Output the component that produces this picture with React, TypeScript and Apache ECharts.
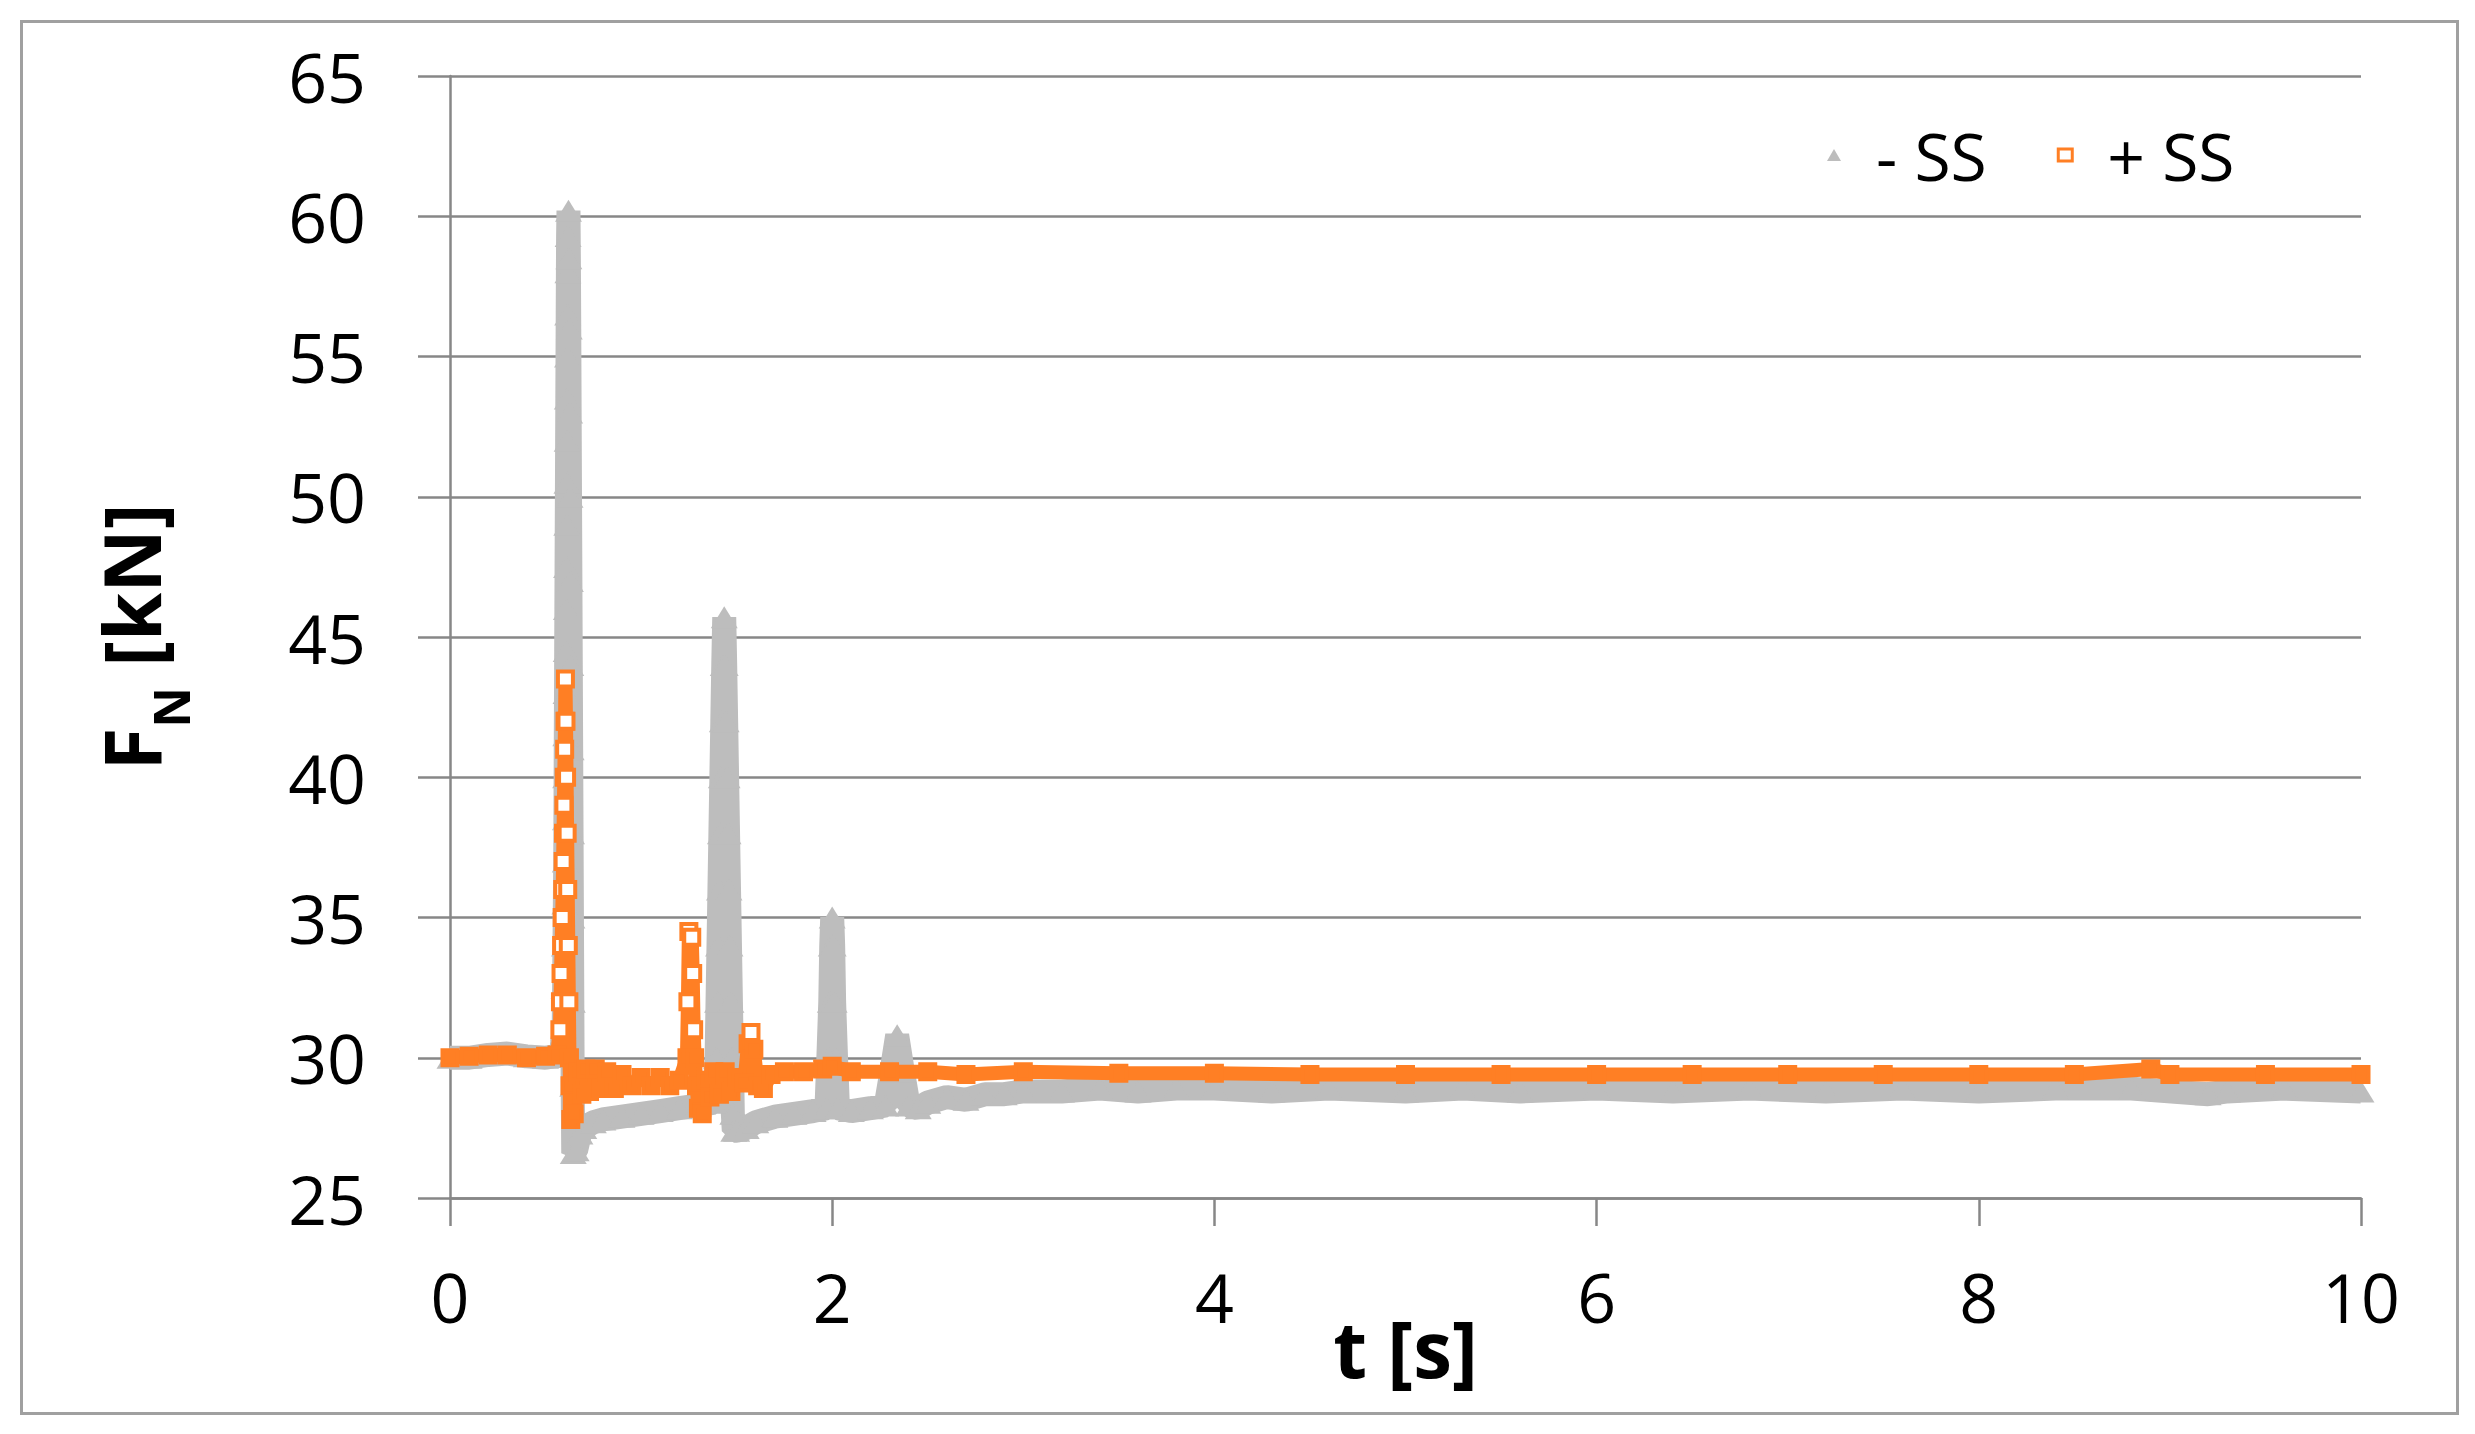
import React, { useRef, useEffect } from 'react';
import * as echarts from 'echarts';

// t [s], F_N [kN], without sliding support (- SS)
const minusSS: [number, number][] = [
  [0, 30.0], [0.1, 30.0], [0.2, 30.1], [0.3, 30.15], [0.4, 30.05], [0.5, 30.0], [0.58, 30.1],
  [0.595, 31], [0.597, 32.5], [0.599, 34], [0.601, 35.5], [0.603, 37], [0.604, 38.5], [0.605, 40],
  [0.606, 41.5], [0.607, 43], [0.608, 44.5], [0.609, 46], [0.61, 47.5], [0.611, 49], [0.612, 50.5],
  [0.613, 52], [0.614, 53.5], [0.615, 55], [0.616, 56.5], [0.617, 58], [0.618, 59.3], [0.62, 60.2],
  [0.622, 58.5], [0.624, 56], [0.626, 53], [0.628, 50], [0.63, 47], [0.632, 44], [0.634, 41],
  [0.636, 38], [0.638, 35], [0.64, 32], [0.642, 29], [0.645, 26.6],
  [0.66, 26.7], [0.68, 27.3], [0.7, 27.5], [0.75, 27.7], [0.8, 27.8], [0.9, 27.9], [1.0, 28.0],
  [1.1, 28.1], [1.2, 28.2], [1.3, 28.3], [1.38, 28.4],
  [1.395, 30], [1.4, 32], [1.405, 34], [1.41, 36], [1.415, 38], [1.42, 40], [1.425, 42], [1.43, 44],
  [1.435, 45.7], [1.44, 44], [1.445, 42], [1.45, 40], [1.455, 38], [1.46, 36], [1.465, 34],
  [1.47, 32], [1.475, 30], [1.48, 28], [1.485, 27.4],
  [1.5, 27.4], [1.55, 27.5], [1.6, 27.7], [1.7, 27.9], [1.8, 28.0], [1.9, 28.1], [1.97, 28.2],
  [1.98, 30], [1.99, 32], [1.995, 34], [2.0, 35], [2.005, 34], [2.01, 32], [2.02, 30], [2.03, 28.2],
  [2.1, 28.1], [2.2, 28.2], [2.28, 28.3],
  [2.31, 29.5], [2.34, 30.8], [2.37, 29.5], [2.4, 28.3],
  [2.45, 28.2], [2.5, 28.4], [2.6, 28.6], [2.7, 28.5], [2.8, 28.7], [2.9, 28.7], [3.0, 28.8],
  [3.2, 28.8], [3.4, 28.9], [3.6, 28.8], [3.8, 28.9], [4.0, 28.9], [4.3, 28.8], [4.6, 28.9],
  [5.0, 28.8], [5.3, 28.9], [5.6, 28.8], [6.0, 28.9], [6.4, 28.8], [6.8, 28.9], [7.2, 28.8],
  [7.6, 28.9], [8.0, 28.8], [8.4, 28.9], [8.8, 28.9], [9.2, 28.7], [9.3, 28.8], [9.6, 28.9], [10, 28.8],
];

// with sliding support (+ SS)
const plusSS: [number, number][] = [
  [0, 30.0], [0.1, 30.05], [0.2, 30.1], [0.3, 30.1], [0.4, 30.0], [0.5, 30.05], [0.56, 30.1],
  [0.575, 31], [0.578, 32], [0.581, 33], [0.584, 34], [0.587, 35], [0.59, 36], [0.592, 37],
  [0.594, 38], [0.596, 39], [0.598, 40], [0.6, 41], [0.602, 42], [0.604, 43.5],
  [0.607, 42], [0.61, 40], [0.613, 38], [0.616, 36], [0.619, 34], [0.622, 32], [0.625, 30],
  [0.628, 29], [0.632, 27.8], [0.64, 28.4], [0.65, 28.0],
  [0.67, 29.5], [0.69, 28.7], [0.71, 29.6], [0.73, 28.8], [0.76, 29.6], [0.79, 28.9], [0.82, 29.5],
  [0.86, 28.9], [0.9, 29.4], [0.95, 29.0], [1.0, 29.3], [1.05, 29.0], [1.1, 29.3], [1.15, 29.0],
  [1.2, 29.2],
  [1.24, 30], [1.245, 32], [1.25, 34.5], [1.265, 34.3], [1.27, 33], [1.275, 31], [1.28, 30],
  [1.29, 29], [1.3, 28.2], [1.32, 28.0], [1.34, 29.2], [1.36, 28.6],
  [1.38, 29.5], [1.41, 28.7], [1.44, 29.5], [1.47, 28.8], [1.5, 29.3], [1.54, 29.1],
  [1.56, 30.5], [1.575, 30.9], [1.59, 30.3], [1.61, 29.0], [1.64, 28.9], [1.68, 29.4],
  [1.75, 29.5], [1.85, 29.5], [1.95, 29.6], [2.0, 29.7], [2.1, 29.5], [2.3, 29.5], [2.5, 29.5],
  [2.7, 29.4], [3.0, 29.5], [3.5, 29.45], [4.0, 29.45], [4.5, 29.4], [5.0, 29.4], [5.5, 29.4],
  [6.0, 29.4], [6.5, 29.4], [7.0, 29.4], [7.5, 29.4], [8.0, 29.4], [8.5, 29.4], [8.9, 29.6],
  [9.0, 29.4], [9.5, 29.4], [10, 29.4],
];

const FONT = '"Open Sans", "DejaVu Sans", sans-serif';
const GRAY = '#bdbdbd';
const ORANGE = '#ff7f24';
const GRID = '#878787';

export default function App() {
  const chartRef = useRef<HTMLDivElement>(null);

  useEffect(() => {
    document.body.style.margin = '0';
    if (!chartRef.current) return;
    const chart = echarts.init(chartRef.current, undefined, { renderer: 'svg' });

    const option: echarts.EChartsOption = {
      animation: false,
      backgroundColor: '#fff',
      textStyle: { fontFamily: FONT },
      grid: { left: 450, top: 76, width: 1911, height: 1122 },
      legend: {
        left: 1827,
        top: 122,
        padding: 0,
        itemWidth: 14,
        itemHeight: 12,
        itemGap: 70,
        selectedMode: false,
        textStyle: { fontSize: 66, color: '#000', fontFamily: FONT, padding: [0, 0, 0, 30] },
        data: [
          { name: '- SS', icon: 'triangle', itemStyle: { color: GRAY } },
          { name: '+ SS', icon: 'rect', itemStyle: { color: '#fff', borderColor: ORANGE, borderWidth: 3 } },
        ],
      },
      xAxis: {
        type: 'value',
        min: 0,
        max: 10,
        interval: 2,
        name: 't [s]',
        nameLocation: 'middle',
        nameGap: 150,
        nameMoveOverlap: false,
        nameTextStyle: { fontSize: 78, fontWeight: 'bold', color: '#000', fontFamily: FONT, verticalAlign: 'middle' },
        axisLine: { show: true, lineStyle: { color: GRID, width: 2.5 } },
        axisTick: { show: true, length: 28, lineStyle: { color: GRID, width: 2.5 } },
        axisLabel: { fontSize: 68, color: '#000', margin: 64, fontFamily: FONT },
        splitLine: { show: false },
      },
      yAxis: {
        type: 'value',
        min: 25,
        max: 65,
        interval: 5,
        name: '{f|F}{s|N}{f| [kN]}',
        nameLocation: 'middle',
        nameRotate: 90,
        nameGap: 306,
        nameMoveOverlap: false,
        nameTextStyle: {
          color: '#000',
          verticalAlign: 'middle',
          align: 'center',
          rich: {
            f: { fontSize: 78, fontWeight: 'bold', fontFamily: FONT, color: '#000', verticalAlign: 'top', lineHeight: 84 },
            s: { fontSize: 50, fontWeight: 'bold', fontFamily: FONT, color: '#000', verticalAlign: 'bottom', lineHeight: 104 },
          },
        },
        axisLine: { show: true, lineStyle: { color: GRID, width: 2.5 } },
        axisTick: { show: true, length: 32, lineStyle: { color: GRID, width: 2.5 } },
        axisLabel: { fontSize: 68, color: '#000', margin: 84, fontFamily: FONT },
        splitLine: { show: true, lineStyle: { color: GRID, width: 2.5 } },
      },
      graphic: [
        {
          type: 'rect',
          left: 19,
          top: 19,
          shape: { width: 2436, height: 1392 },
          style: { fill: 'none', stroke: '#a0a0a0', lineWidth: 3 },
          silent: true,
        },
      ],
      series: [
        {
          name: '- SS',
          type: 'line',
          data: minusSS,
          symbol: 'triangle',
          symbolSize: [27, 22],
          showSymbol: true,
          showAllSymbol: true,
          itemStyle: { color: GRAY },
          lineStyle: { color: GRAY, width: 24 },
          emphasis: { disabled: true },
          z: 2,
        },
        {
          name: '+ SS',
          type: 'line',
          data: plusSS,
          symbol: 'rect',
          symbolSize: 15,
          showSymbol: true,
          showAllSymbol: true,
          // hollow markers show up where the trace leaves the dense band
          itemStyle: {
            color: (p: any) => (p.value[1] > 30.6 ? '#fff' : ORANGE),
            borderColor: ORANGE,
            borderWidth: 4,
          },
          lineStyle: { color: ORANGE, width: 14 },
          emphasis: { disabled: true },
          z: 3,
        },
      ],
    };

    chart.setOption(option);
    return () => chart.dispose();
  }, []);

  return <div ref={chartRef} style={{ width: 2475, height: 1434 }} />;
}
